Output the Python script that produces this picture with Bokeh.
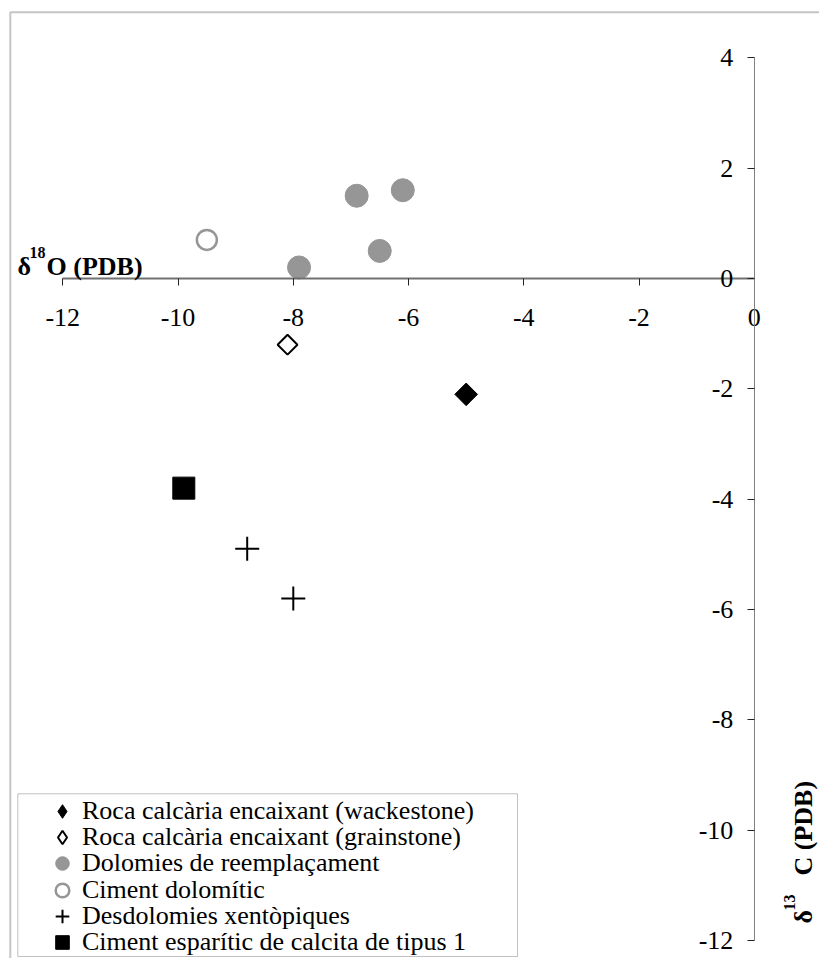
import numpy as np
from bokeh.plotting import figure
from bokeh.models import (Range1d, LinearAxis, FixedTicker, Label, BoxAnnotation,
                          Legend, LegendItem, CustomJSTickFormatter)
from bokeh.embed import file_html
from bokeh.resources import INLINE

# ---- data (delta18O, delta13C, PDB) ----
wack_x = [-5.0]
wack_y = [-2.1]
grain_x = [-8.1]
grain_y = [-1.2]
dolo_x = [-7.9, -6.9, -6.5, -6.1]
dolo_y = [0.2, 1.5, 0.5, 1.6]
cimdol_x = [-9.5]
cimdol_y = [0.7]
desdol_x = [-8.8, -8.0]
desdol_y = [-4.9, -5.8]
cimesp_x = [-9.9]
cimesp_y = [-3.8]

x_ticks = [-12, -10, -8, -6, -4, -2, 0]
y_ticks = [-12, -10, -8, -6, -4, -2, 0, 2, 4]

series_labels = [
    "Roca calcària encaixant (wackestone)",
    "Roca calcària encaixant (grainstone)",
    "Dolomies de reemplaçament",
    "Ciment dolomític",
    "Desdolomies xentòpiques",
    "Ciment esparític de calcita de tipus 1",
]

W, H = 819, 958
FONT = "Liberation Serif"

p = figure(width=W, height=H,
           x_range=Range1d(-13.081, 1.1315), y_range=Range1d(-12.326, 5.039),
           output_backend="svg", toolbar_location=None,
           x_axis_type=None, y_axis_type=None, min_border=0,
           outline_line_color=None, background_fill_color="white",
           border_fill_color="white")

fmt = CustomJSTickFormatter(code="return tick.toString();")
xaxis = LinearAxis(fixed_location=0, bounds=(-12, 0), ticker=FixedTicker(ticks=x_ticks), formatter=fmt)
yaxis = LinearAxis(fixed_location=0, bounds=(-12, 4), ticker=FixedTicker(ticks=y_ticks), formatter=fmt)
for ax in (xaxis, yaxis):
    ax.major_label_text_font = FONT
    ax.major_label_text_font_size = "26px"
    ax.major_label_text_color = "black"
    ax.major_tick_in = 0
    ax.major_tick_out = 7
    ax.major_tick_line_color = "#222222"
    ax.major_tick_line_width = 1
    ax.minor_tick_line_color = None
xaxis.axis_line_color = "#707070"
xaxis.axis_line_width = 2
xaxis.major_label_standoff = 24
yaxis.axis_line_color = "#808080"
yaxis.axis_line_width = 1
yaxis.major_label_standoff = 14
p.add_layout(xaxis, "below")
p.add_layout(yaxis, "left")

# diamond-shaped legend swatches, drawn at the same points underneath the rotated squares
k_wack = p.scatter(wack_x, wack_y, marker="diamond", size=14,
                   fill_color="black", line_color="black")
k_grain = p.scatter(grain_x, grain_y, marker="diamond", size=12,
                    fill_color="white", line_color="black", line_width=2)

r_wack = p.scatter(wack_x, wack_y, marker="square", angle=np.pi / 4, size=16,
                   fill_color="black", line_color="black")
r_grain = p.scatter(grain_x, grain_y, marker="square", angle=np.pi / 4, size=14,
                    fill_color="white", line_color="black", line_width=2)
r_dolo = p.scatter(dolo_x, dolo_y, marker="circle", size=23,
                   fill_color="#969696", line_color="#969696")
r_cimdol = p.scatter(cimdol_x, cimdol_y, marker="circle", size=20,
                     fill_color="white", line_color="#969696", line_width=2.5)
r_desdol = p.scatter(desdol_x, desdol_y, marker="cross", size=24,
                     line_color="black", line_width=2)
r_cimesp = p.scatter(cimesp_x, cimesp_y, marker="square", size=22,
                     fill_color="black", line_color="black")

# one single-row legend per series so that the rows can sit 26 px apart
renderers = [k_wack, k_grain, r_dolo, r_cimdol, r_desdol, r_cimesp]
first_row_center, row_pitch, glyph_box = 811.0, 26.2, 34
for k, (lbl, r) in enumerate(zip(series_labels, renderers)):
    centre = first_row_center + row_pitch * k
    loc_y = H - (centre + glyph_box / 2)
    leg = Legend(items=[LegendItem(label=lbl, renderers=[r])],
                 location=(45, loc_y), padding=0, spacing=0, margin=0,
                 glyph_width=glyph_box, glyph_height=glyph_box, label_height=26,
                 label_standoff=3, border_line_color=None, background_fill_alpha=0,
                 label_text_font=FONT, label_text_font_size="26px",
                 label_text_color="black")
    p.add_layout(leg, "center")

# legend frame and outer chart frame
p.add_layout(BoxAnnotation(left=17.3, right=517, top=164.7, bottom=2,
                           left_units="screen", right_units="screen",
                           top_units="screen", bottom_units="screen",
                           fill_color=None, line_color="#333333", line_width=1))
p.add_layout(BoxAnnotation(left=9.8, right=W + 60, top=H - 11.8, bottom=-60,
                           left_units="screen", right_units="screen",
                           top_units="screen", bottom_units="screen",
                           fill_color=None, line_color="#404040", line_width=2))

# axis titles
def lab(text, x, y, size, angle=0.0):
    p.add_layout(Label(text=text, x=x, y=y, x_units="screen", y_units="screen",
                       angle=angle, text_font=FONT, text_font_size=size,
                       text_font_style="bold", text_color="black",
                       text_align="left", text_baseline="alphabetic"))

lab("δ", 17, 692, "26px")
lab("18", 29, 706, "16px")
lab("O (PDB)", 46, 692, "26px")

lab("δ", 803, 35, "26px", np.pi / 2)
lab("13", 789, 48, "16px", np.pi / 2)
lab("C (PDB)", 803, 83, "26px", np.pi / 2)

open("out.html", "w").write(file_html(p, INLINE))
